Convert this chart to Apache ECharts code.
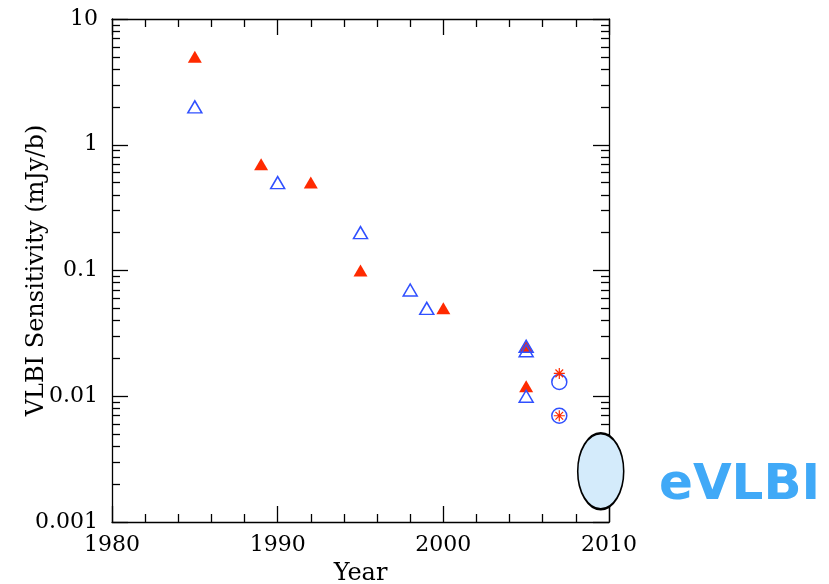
<!DOCTYPE html>
<html><head><meta charset="utf-8">
<script src="https://cdn.jsdelivr.net/npm/echarts@6/dist/echarts.min.js"></script>
<style>html,body{margin:0;padding:0;background:#fff}#c{width:829px;height:584px}</style>
</head><body><div id="c"></div>
<script>
const redFilled = [[1985,5],[1989,0.7],[1992,0.5],[1995,0.1],[2000,0.05],[2005,0.025],[2005,0.012]];
const blueOpen = [[1985,2],[1990,0.5],[1995,0.2],[1998,0.07],[1999,0.05],[2005,0.025],[2005,0.023],[2005,0.01]];
const blueCircle = [[2007,0.013],[2007,0.007]];
const redStar = [[2007,0.0152],[2007,0.007]];
const evlbi = [[2009.5,0.00253]];
const xTicks = [1980,1990,2000,2010];
const yDecades = [0.001,0.01,0.1,1,10];
// minor log tick positions (log10 space)
const yMinorLog = [];
for (let d=-3; d<1; d++) for (let k=2;k<=9;k++) yMinorLog.push(d+Math.log10(k));

const font = '"DejaVu Serif", "Liberation Serif", serif';
const txt = {fontFamily:font, fontSize:22, color:'#000'};
const nameTxt = {fontFamily:font, fontSize:24, color:'#000'};
const axisLine = {show:true, onZero:false, lineStyle:{color:'#000', width:1.3}};
const chart = echarts.init(document.getElementById('c'));
const xBase = {type:'value', min:1980, max:2010, interval:10, axisLine,
  splitLine:{show:false},
  axisTick:{inside:true, length:16, lineStyle:{color:'#000',width:1.3}},
  minorTick:{show:true, splitNumber:5, length:8, lineStyle:{color:'#000',width:1.3}}};
const yMinorBase = {type:'value', min:-3, max:1, axisLine:{show:false}, splitLine:{show:false},
  axisLabel:{show:false},
  axisTick:{show:true, inside:true, length:8, customValues:yMinorLog, lineStyle:{color:'#000',width:1.3}}};
chart.setOption({
  animation:false,
  grid:{left:112, right:220, top:19, bottom:62, outerBoundsMode:'none', containLabel:false},
  xAxis:[
    Object.assign({}, xBase, {position:'bottom', name:'Year', nameLocation:'middle', nameGap:40,
      nameMoveOverlap:false, nameTextStyle:nameTxt,
      axisLabel:Object.assign({margin:12, formatter:v=>String(v), customValues:xTicks}, txt)}),
    Object.assign({}, xBase, {position:'top', axisLabel:{show:false}})
  ],
  yAxis:[
    {type:'log', min:0.001, max:10, logBase:10, position:'left', axisLine, splitLine:{show:false},
      name:'VLBI Sensitivity (mJy/b)', nameLocation:'middle', nameGap:63, nameMoveOverlap:false,
      nameTextStyle:nameTxt,
      axisTick:{inside:true, length:16, lineStyle:{color:'#000',width:1.3}},
      axisLabel:Object.assign({margin:14, formatter:v=>String(v)}, txt)},
    {type:'log', min:0.001, max:10, logBase:10, position:'right', axisLine, splitLine:{show:false},
      axisTick:{inside:true, length:16, lineStyle:{color:'#000',width:1.3}},
      axisLabel:{show:false}},
    Object.assign({}, yMinorBase, {position:'left'}),
    Object.assign({}, yMinorBase, {position:'right'})
  ],
  series:[
    {type:'scatter', data:redFilled, symbol:'triangle', symbolSize:[14,12],
      itemStyle:{color:'#ff2a00', opacity:1}, z:3},
    {type:'scatter', data:blueOpen, symbol:'triangle', symbolSize:[14,12],
      itemStyle:{color:'rgba(255,255,255,0)', borderColor:'#3050ff', borderWidth:1.5, opacity:1}, z:4},
    {type:'scatter', data:blueCircle, symbol:'circle', symbolSize:15,
      itemStyle:{color:'rgba(255,255,255,0)', borderColor:'#3050ff', borderWidth:1.5, opacity:1}, z:4},
    {type:'scatter', data:redStar, symbol:'path://M0,-1L0,1M-1,0L1,0M-0.7,-0.7L0.7,0.7M-0.7,0.7L0.7,-0.7',
      symbolSize:11, itemStyle:{color:'none', borderColor:'#ff2a00', borderWidth:1.2, opacity:1}, z:5},
    {type:'scatter', data:evlbi, symbol:'circle', symbolSize:[46,76], clip:false,
      itemStyle:{color:'#d4ebfb', borderColor:'#000', borderWidth:2, opacity:1}, z:10}
  ],
  graphic:[{type:'text', left:659, top:461, z:20,
    style:{text:'eVLBI', fill:'#40a9f7', font:'bold 50px "DejaVu Sans", sans-serif'}}]
});
</script></body></html>
